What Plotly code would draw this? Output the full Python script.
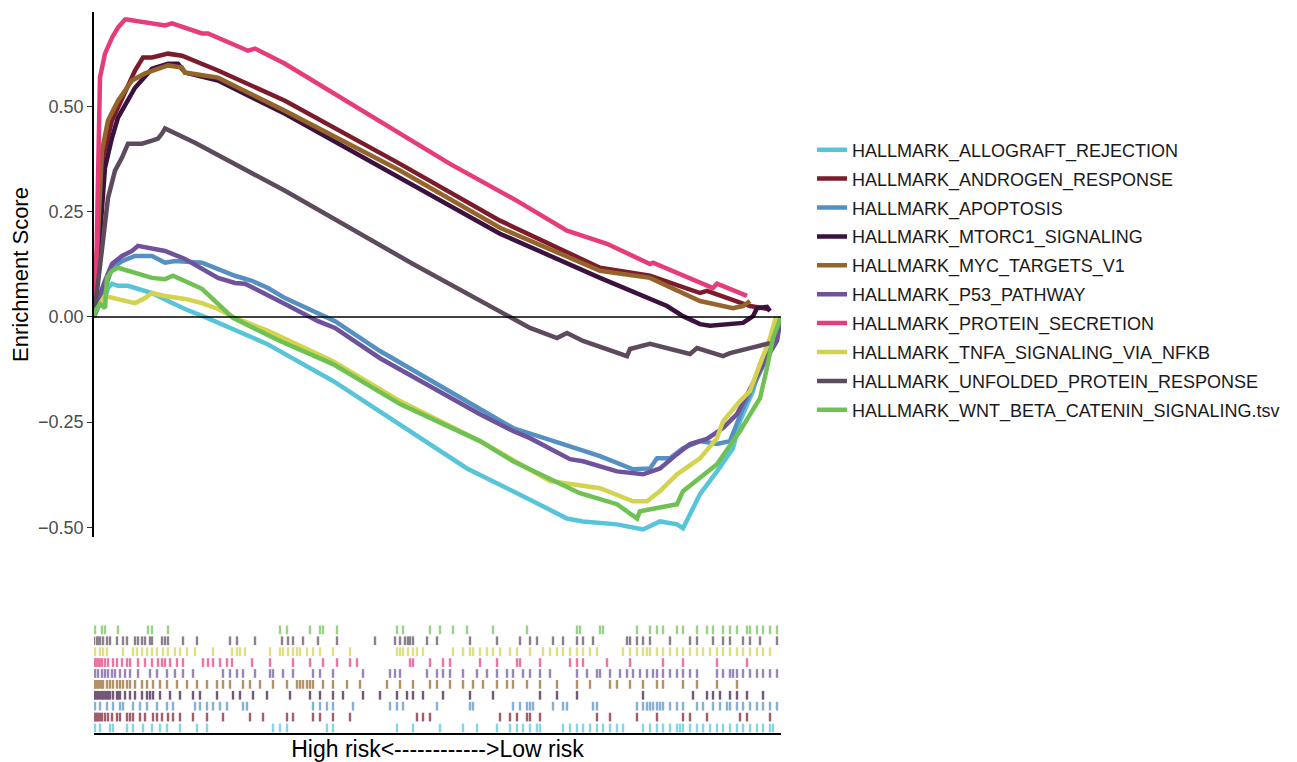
import plotly.graph_objects as go

# ---------------- data ----------------
N_GENES = 13740

set_names = [
    "HALLMARK_ALLOGRAFT_REJECTION",
    "HALLMARK_ANDROGEN_RESPONSE",
    "HALLMARK_APOPTOSIS",
    "HALLMARK_MTORC1_SIGNALING",
    "HALLMARK_MYC_TARGETS_V1",
    "HALLMARK_P53_PATHWAY",
    "HALLMARK_PROTEIN_SECRETION",
    "HALLMARK_TNFA_SIGNALING_VIA_NFKB",
    "HALLMARK_UNFOLDED_PROTEIN_RESPONSE",
    "HALLMARK_WNT_BETA_CATENIN_SIGNALING.tsv",
]

colors = ["#58C4D9", "#7B1B2C", "#5590C3", "#3B1140", "#95642A",
          "#6E529B", "#E63C7C", "#D3D34F", "#5D4A5C", "#6FC153"]

# running enrichment score curves (rank, ES)
allograft_rank = [0, 60, 220, 280, 360, 480, 680, 880, 1160, 1480, 1820, 2260, 3460, 4780, 6120, 7460, 8780, 9460, 9780, 10460, 10980, 11320, 11660, 11780, 11920, 12120, 12460, 12780, 12920, 13180, 13320, 13520, 13740]
allograft_es = [0, 0.021, 0.045, 0.069, 0.079, 0.074, 0.074, 0.067, 0.057, 0.038, 0.019, -0.002, -0.064, -0.152, -0.255, -0.360, -0.438, -0.479, -0.486, -0.493, -0.505, -0.486, -0.493, -0.502, -0.469, -0.421, -0.367, -0.312, -0.248, -0.176, -0.112, -0.057, 0]

androgen_rank = [0, 180, 360, 620, 820, 980, 1160, 1480, 1760, 2480, 3820, 6120, 8120, 10120, 11120, 12120, 12260, 13120, 13320, 13480]
androgen_es = [0, 0.379, 0.467, 0.538, 0.586, 0.617, 0.617, 0.626, 0.621, 0.586, 0.514, 0.364, 0.229, 0.117, 0.098, 0.057, 0.062, 0.026, 0.021, 0.019]

apoptosis_rank = [0, 160, 360, 560, 820, 1160, 1420, 1620, 2160, 2480, 2820, 3160, 3480, 3820, 4480, 4820, 5720, 7720, 8380, 9380, 9780, 10120, 10780, 11120, 11260, 11520, 11780, 12120, 12460, 12720, 12980, 13260, 13520, 13740]
apoptosis_es = [0, 0.045, 0.117, 0.133, 0.145, 0.145, 0.129, 0.133, 0.129, 0.114, 0.098, 0.086, 0.069, 0.045, 0.007, -0.010, -0.081, -0.217, -0.264, -0.302, -0.319, -0.331, -0.362, -0.360, -0.336, -0.336, -0.312, -0.295, -0.302, -0.295, -0.217, -0.145, -0.081, 0]

mtorc1_rank = [0, 220, 360, 480, 820, 1160, 1480, 1680, 1820, 2480, 3820, 6120, 8120, 10120, 11460, 11780, 12120, 12320, 12980, 13180, 13260, 13460, 13520]
mtorc1_es = [0, 0.355, 0.426, 0.474, 0.545, 0.590, 0.602, 0.602, 0.581, 0.562, 0.483, 0.331, 0.198, 0.093, 0.026, 0.002, -0.017, -0.021, -0.014, 0.002, 0.021, 0.024, 0.014]

myc_rank = [0, 160, 280, 480, 760, 1020, 1480, 1760, 1820, 2480, 3820, 6120, 8120, 10120, 11120, 11780, 12120, 12780, 12980, 13120]
myc_es = [0, 0.395, 0.467, 0.514, 0.562, 0.579, 0.598, 0.593, 0.581, 0.569, 0.490, 0.348, 0.212, 0.110, 0.093, 0.055, 0.038, 0.021, 0.026, 0.038]

p53_rank = [0, 20, 220, 360, 560, 760, 880, 1160, 1420, 1820, 2480, 2820, 3020, 3820, 4480, 4820, 5720, 7720, 8380, 8720, 9520, 9780, 10460, 10980, 11320, 11660, 11920, 12260, 12580, 12860, 13120, 13380, 13660, 13740]
p53_es = [0, 0.021, 0.086, 0.126, 0.145, 0.157, 0.169, 0.164, 0.157, 0.138, 0.093, 0.081, 0.079, 0.031, -0.010, -0.026, -0.098, -0.231, -0.271, -0.288, -0.338, -0.343, -0.367, -0.374, -0.360, -0.326, -0.302, -0.290, -0.264, -0.231, -0.169, -0.112, -0.057, 0]

protein_rank = [0, 54, 120, 220, 360, 480, 620, 660, 1420, 1560, 2160, 2280, 3080, 3220, 3820, 6120, 7120, 8460, 9460, 10260, 11120, 11180, 12380, 12460, 13060]
protein_es = [0, 0.17, 0.57, 0.626, 0.664, 0.688, 0.707, 0.707, 0.693, 0.698, 0.674, 0.674, 0.633, 0.638, 0.602, 0.436, 0.364, 0.276, 0.205, 0.174, 0.126, 0.129, 0.069, 0.079, 0.050]

tnfa_rank = [0, 20, 220, 480, 820, 1020, 1160, 1420, 1820, 2160, 2480, 2820, 3480, 4780, 6120, 7720, 9120, 10120, 10780, 11060, 11320, 11660, 12120, 12460, 12580, 12920, 13120, 13320, 13520, 13640]
tnfa_es = [0, 0.014, 0.050, 0.043, 0.033, 0.045, 0.057, 0.050, 0.043, 0.033, 0.019, -0.002, -0.033, -0.105, -0.200, -0.295, -0.390, -0.407, -0.438, -0.438, -0.414, -0.374, -0.336, -0.288, -0.248, -0.200, -0.176, -0.112, -0.050, 0]

unfolded_rank = [0, 20, 160, 280, 420, 560, 680, 960, 1160, 1280, 1360, 1420, 2020, 3820, 6380, 8380, 8720, 9260, 9460, 9780, 10460, 10660, 10720, 11120, 11920, 12060, 12580, 12720, 13120, 13520]
unfolded_es = [0, 0.021, 0.174, 0.283, 0.348, 0.379, 0.412, 0.412, 0.419, 0.424, 0.436, 0.448, 0.414, 0.300, 0.126, -0.002, -0.026, -0.050, -0.038, -0.057, -0.086, -0.093, -0.076, -0.064, -0.088, -0.074, -0.093, -0.086, -0.074, -0.062]

wnt_rank = [0, 20, 120, 220, 260, 360, 480, 820, 1160, 1420, 1580, 2160, 2780, 3720, 4780, 6120, 7720, 8380, 9720, 10460, 10860, 10920, 11660, 11780, 12460, 12920, 13320, 13460, 13580, 13740]
wnt_es = [0, 0.014, 0.031, 0.021, 0.093, 0.110, 0.117, 0.105, 0.093, 0.090, 0.098, 0.067, -0.002, -0.057, -0.112, -0.207, -0.295, -0.343, -0.419, -0.445, -0.479, -0.462, -0.445, -0.414, -0.350, -0.271, -0.193, -0.121, -0.050, 0]

# gene-set hit positions (rank) for the rug panel
allograft_hits = [20, 120, 320, 380, 660, 780, 980, 1160, 1320, 1460, 1720, 2060, 2260, 3580, 3720, 3860, 4660, 4780, 6060, 6380, 6920, 7380, 7660, 8060, 8320, 8460, 8580, 8720, 8860, 8920, 9380, 9520, 9660, 9780, 9920, 10060, 10180, 10320, 10460, 10580, 10980, 11120, 11260, 11380, 11520, 11660, 11720, 11780, 11920, 12060, 12180, 12320, 12460, 12580, 12720, 12860, 12980, 13120, 13260, 13380, 13520, 13580]
androgen_hits = [0, 20, 60, 80, 120, 160, 220, 280, 360, 460, 520, 660, 720, 780, 920, 1020, 1180, 1260, 1360, 1480, 1580, 1720, 1980, 2260, 2580, 3120, 3380, 3860, 3980, 4380, 4520, 4780, 5120, 6460, 6580, 6720, 8120, 8320, 8460, 8660, 8720, 8920, 10060, 10320, 10860, 11260, 11780, 11920, 12260, 12920, 13060, 13520]
apoptosis_hits = [20, 120, 260, 380, 520, 580, 780, 920, 1060, 1260, 1460, 1580, 2020, 2120, 2260, 2380, 2520, 2660, 2980, 3060, 4380, 4520, 4660, 4780, 5180, 5920, 6060, 6180, 6860, 7520, 7580, 8380, 8520, 8660, 8720, 8780, 9180, 9380, 9460, 9980, 10060, 10860, 10980, 11060, 11120, 11180, 11260, 11320, 11380, 11520, 11660, 11780, 12060, 12180, 12380, 12520, 12660, 12720, 12860, 12980, 13120, 13260, 13380, 13520, 13660]
mtorc1_hits = [0, 20, 60, 80, 120, 160, 180, 220, 260, 280, 320, 380, 460, 480, 520, 620, 720, 820, 960, 1060, 1120, 1180, 1320, 1520, 1720, 1980, 2120, 2460, 2780, 2920, 3180, 3460, 3920, 4320, 4520, 4780, 4980, 5380, 5720, 6060, 6260, 6380, 6580, 6980, 7520, 7980, 8920, 9260, 9660, 10980, 11980, 12260, 12380, 12520, 12720, 12860, 13060, 13380]
myc_hits = [0, 20, 60, 80, 120, 160, 180, 260, 320, 380, 460, 520, 580, 660, 720, 820, 960, 1060, 1180, 1320, 1460, 1660, 1860, 2060, 2260, 2460, 2580, 2720, 2980, 3120, 3320, 3580, 3860, 4060, 4120, 4180, 4260, 4320, 4380, 4580, 4780, 5060, 5320, 5860, 6120, 6380, 6720, 6860, 7120, 7380, 7580, 7780, 8060, 8260, 8380, 8660, 8920, 9260, 9660, 9920, 10320, 10460, 10720, 10980, 11260, 11380, 11780, 12060, 12460, 12860]
p53_hits = [20, 80, 160, 220, 280, 360, 420, 520, 620, 720, 880, 1120, 1260, 1460, 1620, 1780, 1980, 2580, 2720, 2860, 2980, 3220, 3520, 3580, 3780, 3980, 4380, 4520, 4780, 5380, 5920, 6020, 6120, 6660, 6860, 6980, 7120, 7380, 7660, 7860, 8060, 8260, 8380, 8580, 8720, 8920, 9120, 9660, 9860, 10060, 10120, 10320, 10520, 10660, 10780, 10920, 11060, 11180, 11260, 11380, 11520, 11660, 11780, 11920, 12060, 12460, 12580, 12720, 12780, 12860, 12980, 13120, 13260, 13380, 13520, 13660]
protein_hits = [0, 20, 60, 80, 120, 160, 220, 280, 380, 460, 560, 660, 720, 880, 1020, 1160, 1280, 1360, 1420, 1520, 1660, 1780, 2180, 2280, 2380, 2520, 2660, 2760, 3160, 3520, 3980, 4320, 4580, 4860, 5120, 5260, 6320, 6380, 6720, 6980, 7120, 7720, 8060, 8460, 8520, 8920, 9520, 9660, 9780, 10260, 10720, 11380, 11780, 12460, 13060]
tnfa_hits = [20, 120, 180, 260, 580, 780, 860, 960, 1060, 1160, 1260, 1380, 1480, 1620, 1720, 1860, 2020, 2380, 2760, 2860, 2920, 3020, 3520, 3720, 3780, 3880, 3980, 4060, 4120, 4260, 4380, 4520, 4780, 5120, 6060, 6120, 6180, 6280, 6380, 6460, 6580, 7180, 7380, 7520, 7580, 7720, 7860, 7980, 8120, 8320, 8460, 8720, 8980, 9120, 9260, 9380, 9520, 9660, 9780, 9920, 10060, 10580, 10720, 10860, 10980, 11060, 11120, 11260, 11380, 11520, 11660, 11780, 11920, 12060, 12180, 12320, 12460, 12580, 12720, 12860, 12980, 13120, 13260, 13380, 13520]
unfolded_hits = [0, 60, 80, 120, 180, 260, 320, 460, 580, 660, 820, 880, 960, 1020, 1120, 1160, 1360, 1420, 1480, 1780, 2060, 2720, 2860, 3220, 3760, 3880, 3980, 4180, 4480, 4860, 5620, 6020, 6120, 6220, 6280, 6320, 6380, 6660, 6860, 7520, 8060, 8520, 8720, 8860, 9180, 9380, 9660, 9780, 9980, 10660, 10720, 10860, 10980, 11120, 11520, 11920, 12060, 12380, 12580, 12720, 12980, 13120, 13320, 13660]
wnt_hits = [20, 160, 220, 480, 1080, 1160, 1480, 3720, 3860, 4320, 4520, 4580, 4860, 6060, 6180, 6720, 6920, 7180, 7460, 7980, 8660, 9660, 9720, 10120, 10180, 10860, 11120, 11260, 11380, 11660, 11780, 12060, 12260, 12380, 12580, 12720, 12860, 13060, 13120, 13260, 13380, 13520, 13660]

ranks = [allograft_rank, androgen_rank, apoptosis_rank, mtorc1_rank, myc_rank,
         p53_rank, protein_rank, tnfa_rank, unfolded_rank, wnt_rank]
scores = [allograft_es, androgen_es, apoptosis_es, mtorc1_es, myc_es,
          p53_es, protein_es, tnfa_es, unfolded_es, wnt_es]
hits = [allograft_hits, androgen_hits, apoptosis_hits, mtorc1_hits, myc_hits,
        p53_hits, protein_hits, tnfa_hits, unfolded_hits, wnt_hits]

x_label = "High risk<------------>Low risk"
y_label = "Enrichment Score"
y_ticks = [-0.50, -0.25, 0.00, 0.25, 0.50]

# ---------------- figure ----------------
FONT = "Liberation Sans, Arial, Helvetica, sans-serif"
fig = go.Figure()

for i, name in enumerate(set_names):
    fig.add_trace(go.Scatter(
        x=ranks[i], y=scores[i], mode="lines", name=name,
        line=dict(color=colors[i], width=4.5), legendgroup=name,
        xaxis="x", yaxis="y", showlegend=True,
    ))

for i, name in enumerate(set_names):
    xs, ys = [], []
    for h in hits[i]:
        xs += [h, h, None]
        ys += [i - 0.4, i + 0.4, None]
    fig.add_trace(go.Scatter(
        x=xs, y=ys, mode="lines", line=dict(color=colors[i], width=2.4),
        opacity=0.7, showlegend=False, hoverinfo="skip",
        xaxis="x2", yaxis="y2",
    ))

fig.add_shape(type="line", xref="x", yref="y", x0=0, x1=N_GENES, y0=0, y1=0,
              line=dict(color="black", width=1.6), layer="above")

# page body has an 8px margin: lay the figure out in (screen px - OFF)
OFF = 8
W, H = 1297 - OFF, 762 - OFF
ml = 94 - OFF
mt = 12 - OFF
mr = W - (781 - OFF)
mb = H - (733 - OFF)
plot_h = H - mt - mb
plot_w = W - ml - mr


def ypaper(screen_y):
    return (H - mb - (screen_y - OFF)) / plot_h


def xpaper(screen_x):
    return (screen_x - OFF - ml) / plot_w


fig.update_layout(
    width=W, height=H,
    margin=dict(l=ml, r=mr, t=mt, b=mb, autoexpand=False),
    paper_bgcolor="white", plot_bgcolor="white",
    font=dict(family=FONT, color="black"),
    showlegend=True,
    legend=dict(
        x=xpaper(812), xanchor="left",
        y=ypaper(280), yanchor="middle",
        font=dict(size=18, color="#1a1a1a", family=FONT),
        itemwidth=30, tracegroupgap=2.5, bgcolor="rgba(0,0,0,0)",
    ),
    xaxis=dict(
        domain=[0, 1], range=[0, N_GENES], visible=False,
        anchor="y",
    ),
    yaxis=dict(
        domain=[ypaper(537), 1.0],
        range=[-0.523, 0.725],
        tickvals=y_ticks, tickformat=".2f",
        showgrid=False, zeroline=False,
        showline=True, linecolor="black", linewidth=1.6,
        ticks="outside", ticklen=5, tickwidth=1.3, tickcolor="#333333",
        tickfont=dict(size=18, color="#4D4D4D", family=FONT),
        title=dict(text=y_label, font=dict(size=22, color="black", family=FONT), standoff=3),
        anchor="x", automargin=False,
    ),
    xaxis2=dict(
        domain=[0, 1], range=[0, N_GENES],
        showline=True, linecolor="black", linewidth=1.6,
        showgrid=False, zeroline=False, ticks="", showticklabels=False,
        title=dict(text=x_label, font=dict(size=23, color="black", family=FONT), standoff=7),
        anchor="y2", automargin=False,
    ),
    yaxis2=dict(
        domain=[0, ypaper(622)],
        range=[-0.46, 9.72], visible=False, anchor="x2",
    ),
)

fig.write_html("out.html")
